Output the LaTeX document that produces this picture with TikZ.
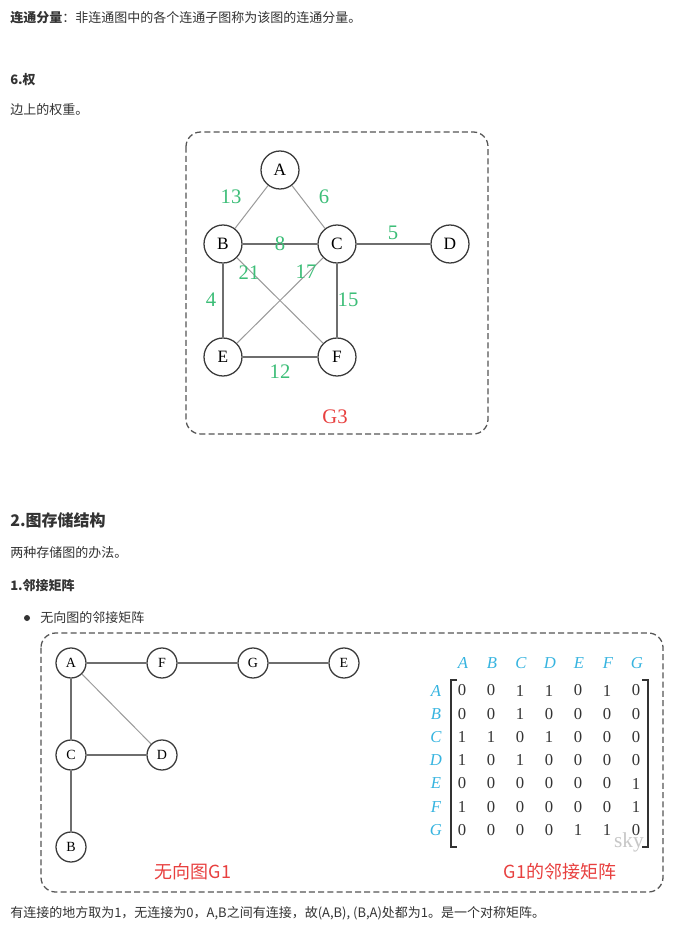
\documentclass[tikz,border=0pt]{standalone}
\usepackage{fontspec}
\setmainfont{Liberation Serif}
\newfontfamily\cjk{Noto Sans CJK SC}
\definecolor{txt}{HTML}{333333}
\definecolor{vline}{HTML}{3A3A3A}
\definecolor{edgecol}{HTML}{6E6E6E}
\definecolor{edgelight}{HTML}{9A9A9A}
\definecolor{boxcol}{HTML}{555555}
\definecolor{wgreen}{HTML}{3DBE78}
\definecolor{lred}{HTML}{E8403F}
\definecolor{lcyan}{HTML}{36B4E0}

\begin{document}
\begin{tikzpicture}[
  x=0.75pt, y=-0.75pt,
  para/.style={anchor=west, inner sep=0, text=txt, font=\cjk\fontsize{9.75}{12}\selectfont},
  head/.style={para, font=\cjk\bfseries\fontsize{12}{14}\selectfont},
  dashbox/.style={draw=boxcol, line width=0.95pt, dash pattern=on 4.5pt off 2.4pt, rounded corners=11pt},
  bigv/.style={circle, draw=vline, fill=white, line width=0.95pt, minimum size=28.5pt, inner sep=0, font=\fontsize{13}{13}\selectfont},
  smallv/.style={bigv, minimum size=22.5pt, font=\fontsize{10.5}{11}\selectfont},
  edge/.style={draw=edgecol, line width=0.9pt},
  light/.style={draw=edgelight, line width=0.75pt},
  wt/.style={inner sep=0, text=wgreen, font=\fontsize{15.5}{16}\selectfont},
  redcap/.style={inner sep=0, text=lred, font=\cjk\fontsize{13.5}{14}\selectfont},
  ent/.style={inner sep=0, text=txt, font=\fontsize{12.5}{13}\selectfont},
  hdr/.style={ent, text=lcyan, font=\itshape\fontsize{12.5}{13}\selectfont}
]
\fill[white] (0,0) rectangle (675,927);
\useasboundingbox (0,0) rectangle (675,927);

% page text
\node[para] (line1) at (10,18) {{\bfseries 连通分量}：非连通图中的各个连通子图称为该图的连通分量。};
\node[para, font=\cjk\bfseries\fontsize{9.75}{12}\selectfont] (sec6) at (10,80) {6.权};
\node[para] (line2) at (10,110) {边上的权重。};

% weighted graph G3
\draw[dashbox] (186,132) rectangle (488,434);
\node[bigv] (a3) at (280,170) {A};
\node[bigv] (b3) at (223,244) {B};
\node[bigv] (c3) at (337,244) {C};
\node[bigv] (d3) at (450,244) {D};
\node[bigv] (e3) at (223,357) {E};
\node[bigv] (f3) at (337,357) {F};
\draw[light] (a3) -- (b3);
\draw[light] (a3) -- (c3);
\draw[edge] (b3) -- (c3);
\draw[edge] (c3) -- (d3);
\draw[light] (b3) -- (f3);
\draw[light] (c3) -- (e3);
\draw[edge] (b3) -- (e3);
\draw[edge] (c3) -- (f3);
\draw[edge] (e3) -- (f3);
\node[wt] (w13) at (231,197) {13};
\node[wt] (w6) at (324,197) {6};
\node[wt] (w8) at (280,244) {8};
\node[wt] (w5) at (393,233) {5};
\node[wt] (w21) at (249,273) {21};
\node[wt] (w17) at (306,272) {17};
\node[wt] (w4) at (211,300) {4};
\node[wt] (w15) at (348,300) {15};
\node[wt] (w12) at (280,372) {12};
\node[redcap, font=\fontsize{15.5}{16}\selectfont] (g3) at (335,417) {G3};

\node[head] (sec2) at (10,520) {2.图存储结构};
\node[para] (line3) at (10,553) {两种存储图的办法。};
\node[para, font=\cjk\bfseries\fontsize{9.75}{12}\selectfont] (sec21) at (10,586) {1.邻接矩阵};
\node[circle, fill=txt, minimum size=4.5pt, inner sep=0] (dot) at (27,618) {};
\node[para] (item) at (40,618) {无向图的邻接矩阵};

% undirected graph G1 and its matrix
\draw[dashbox] (41,633) rectangle (663,892);
\node[smallv] (a1) at (71,663) {A};
\node[smallv] (f1) at (162,663) {F};
\node[smallv] (g1) at (253,663) {G};
\node[smallv] (e1) at (344,663) {E};
\node[smallv] (c1) at (71,755) {C};
\node[smallv] (d1) at (162,755) {D};
\node[smallv] (b1) at (71,847) {B};
\draw[edge] (a1) -- (f1);
\draw[edge] (f1) -- (g1);
\draw[edge] (g1) -- (e1);
\draw[edge] (a1) -- (c1);
\draw[edge] (c1) -- (d1);
\draw[edge] (c1) -- (b1);
\draw[light] (a1) -- (d1);
\node[redcap] (g1cap) at (193,872) {无向图G1};

\foreach \lab [count=\i] in {A,B,C,D,E,F,G} {
  \node[hdr] (col\lab) at ({463+29*(\i-1)},663) {\lab};
  \node[hdr] (row\lab) at (436,{690.5+23.25*(\i-1)}) {\lab};
}
\foreach \row [count=\r] in {{0,0,1,1,0,1,0},{0,0,1,0,0,0,0},{1,1,0,1,0,0,0},{1,0,1,0,0,0,0},{0,0,0,0,0,0,1},{1,0,0,0,0,0,1},{0,0,0,0,1,1,0}} {
  \foreach \v [count=\c] in \row
    \node[ent] (m\r\c) at ({462+29*(\c-1)},{690.5+23.25*(\r-1)}) {\v};
}
\draw[line width=1.1pt, txt] (457,680) -- (451,680) -- (451,847) -- (457,847);
\draw[line width=1.1pt, txt] (642,680) -- (648,680) -- (648,847) -- (642,847);
\node[inner sep=0, text=black!22, font=\fontsize{16}{16}\selectfont] (sky) at (629,842) {sky};
\node[redcap] (mcap) at (560,872) {G1的邻接矩阵};

\node[para] (line4) at (10,913) {有连接的地方取为1，无连接为0，A,B之间有连接，故(A,B), (B,A)处都为1。是一个对称矩阵。};
\end{tikzpicture}
\end{document}
